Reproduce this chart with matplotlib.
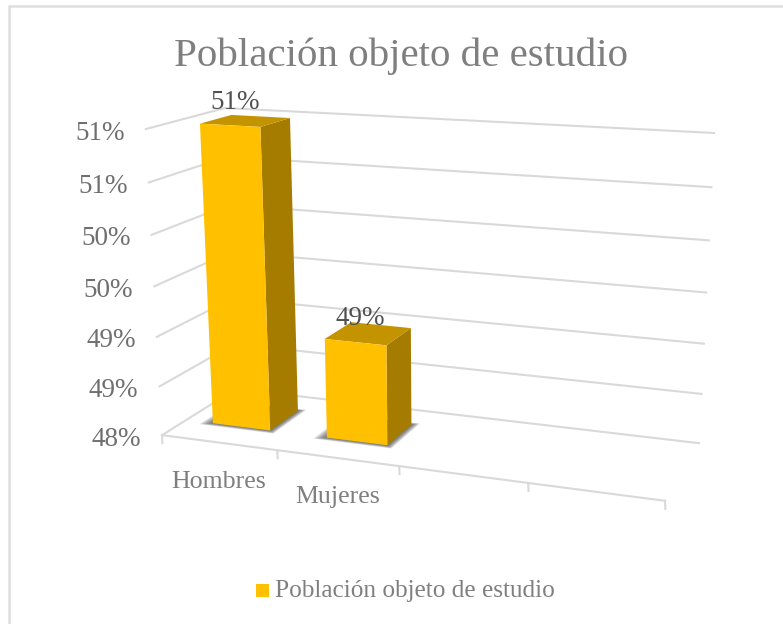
import numpy as np
import matplotlib
matplotlib.use('Agg')
import matplotlib.pyplot as plt
from matplotlib.patches import Polygon

categories = ['Hombres', 'Mujeres']
values = [51, 49]
value_labels = ['51%', '49%']
axis_values = [48, 48.5, 49, 49.5, 50, 50.5, 51]
axis_labels = ['48%', '49%', '49%', '50%', '50%', '51%', '51%']
n_slots = 4
title = 'Población objeto de estudio'

plt.rcParams['font.family'] = ['Liberation Serif', 'DejaVu Serif']

# corners of the 3d box (slot, value, depth) and where they land on the picture
box = [(0, 48, 0), (4, 48, 0), (0, 48, 1), (4, 48, 1), (0, 51, 0), (0, 51, 1), (4, 51, 1)]
seen = [(162, 435), (665, 501), (236, 389), (699, 443), (146, 129), (225, 108), (714, 133)]

A = []
b = []
for (x, y, z), (px, py) in zip(box, seen):
    y = y - 48
    A.append([x, y, z, 1, 0, 0, 0, 0, -px * x, -px * y, -px * z])
    b.append(px)
    A.append([0, 0, 0, 0, x, y, z, 1, -py * x, -py * y, -py * z])
    b.append(py)
P = np.append(np.linalg.lstsq(np.array(A, float), np.array(b, float), rcond=None)[0], 1).reshape(3, 4)


def proj(x, y, z):
    v = P @ np.array([x, y - 48, z, 1.0])
    return v[0] / v[2], v[1] / v[2]


fig = plt.figure(figsize=(7.83, 6.24), dpi=100)
ax = fig.add_axes([0, 0, 1, 1])
ax.set_xlim(0, 783)
ax.set_ylim(624, 0)
ax.axis('off')

# only the top and left edges of the frame show
ax.plot([9, 9, 783], [624, 6, 6], color='#dedede', lw=1.8, solid_joinstyle='miter')

grid = '#d9d9d9'
for v in axis_values:
    pts = [proj(0, v, 0), proj(0, v, 1), proj(4, v, 1)]
    ax.plot(*zip(*pts), color=grid, lw=1.5, solid_joinstyle='miter', zorder=1)

# floor front edge and ticks
ax.plot(*zip(proj(0, 48, 0), proj(n_slots, 48, 0)), color=grid, lw=1.5, zorder=1)
for i in range(n_slots + 1):
    x, y = proj(i, 48, 0)
    ax.plot([x, x + 0.3], [y, y + 8], color=grid, lw=1.5, zorder=1)

front = '#ffc000'
top = '#c49300'
side = '#a67c00'
bar_lo, bar_hi = 0.24, 0.75
d_lo, d_hi = 0.31, 0.72

for i, val in enumerate(values):
    x0, x1 = i + bar_lo, i + bar_hi
    # soft shadow on the floor, built up from a few layers
    for k in [0.09, 0.075, 0.06, 0.045, 0.03, 0.015]:
        s = [proj(x0 - k, 48, d_lo - k * 0.5), proj(x1 + k * 0.6, 48, d_lo - k * 0.5),
             proj(x1 + k * 0.6, 48, d_hi + k * 0.4), proj(x0 - k, 48, d_hi + k * 0.4)]
        ax.add_patch(Polygon(s, fc='#404040', ec='none', alpha=0.17, zorder=2))
    ax.add_patch(Polygon([proj(x1, 48, d_lo), proj(x1, val, d_lo), proj(x1, val, d_hi), proj(x1, 48, d_hi)],
                         fc=side, ec='none', zorder=3))
    ax.add_patch(Polygon([proj(x0, val, d_lo), proj(x1, val, d_lo), proj(x1, val, d_hi), proj(x0, val, d_hi)],
                         fc=top, ec='none', zorder=3))
    ax.add_patch(Polygon([proj(x0, 48, d_lo), proj(x1, 48, d_lo), proj(x1, val, d_lo), proj(x0, val, d_lo)],
                         fc=front, ec='none', zorder=4))
    lx, ly = proj(i + 0.5, val, 0.36)
    ax.text(lx + 1, ly - 9, value_labels[i], ha='center', va='bottom', fontsize=19.5, color='#505050', zorder=5)

for v, lab in zip(axis_values, axis_labels):
    x, y = proj(0, v, 0)
    ax.text(x - 21, y + 4, lab, ha='right', va='center', fontsize=19.5, color='#6f6f6f')

for i, cat in enumerate(categories):
    x, y = proj(i + 0.5, 48, 0)
    ax.text(x, y + 39, cat, ha='center', va='center', fontsize=18.6, color='#7f7f7f')

ax.text(401, 56, title, ha='center', va='center', fontsize=29.5, color='#7f7f7f')
ax.add_patch(plt.Rectangle((256, 584), 13, 13, fc=front, ec='none'))
ax.text(275, 591, title, ha='left', va='center', fontsize=18.2, color='#7f7f7f')

fig.savefig('out.png', dpi=100)
